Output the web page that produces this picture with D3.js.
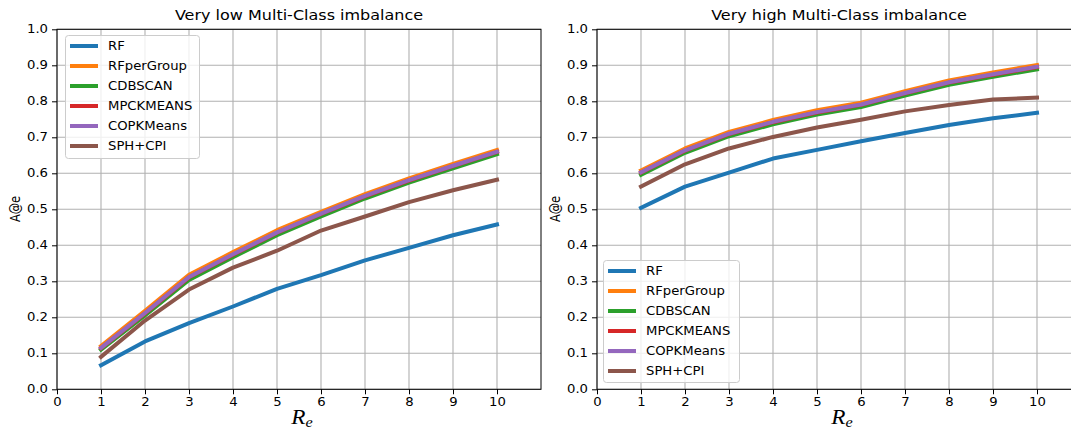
<!DOCTYPE html>
<html>
<head>
<meta charset="utf-8">
<script src="https://cdn.jsdelivr.net/npm/d3@7"></script>
<style>
  html, body { margin: 0; padding: 0; background: #fff; }
  svg { display: block; }
  text { font-family: "DejaVu Sans", sans-serif; fill: #000; }
</style>
</head>
<body>
<svg id="chart" width="1071" height="432"></svg>
<script>
// ---- data ----
const xValues = [1, 2, 3, 4, 5, 6, 7, 8, 9, 10];
const seriesNames = ["RF", "RFperGroup", "CDBSCAN", "MPCKMEANS", "COPKMeans", "SPH+CPI"];
const seriesColors = ["#1f77b4", "#ff7f0e", "#2ca02c", "#d62728", "#9467bd", "#8c564b"];
const xTicks = [0, 1, 2, 3, 4, 5, 6, 7, 8, 9, 10];
const yTicks = [0.0, 0.1, 0.2, 0.3, 0.4, 0.5, 0.6, 0.7, 0.8, 0.9, 1.0];
const panelTitles = ["Very low Multi-Class imbalance", "Very high Multi-Class imbalance"];

// Very low imbalance
const lowRF         = [0.067, 0.133, 0.184, 0.230, 0.279, 0.317, 0.358, 0.393, 0.428, 0.458];
const lowRFperGroup = [0.120, 0.218, 0.318, 0.381, 0.442, 0.493, 0.542, 0.586, 0.626, 0.665];
const lowCDBSCAN    = [0.110, 0.205, 0.304, 0.367, 0.428, 0.480, 0.530, 0.574, 0.614, 0.653];
const lowMPCKMEANS  = [0.114, 0.211, 0.311, 0.374, 0.435, 0.487, 0.536, 0.580, 0.620, 0.659];
const lowCOPKMeans  = [0.115, 0.212, 0.312, 0.375, 0.436, 0.488, 0.537, 0.581, 0.621, 0.660];
const lowSPHCPI     = [0.090, 0.191, 0.277, 0.338, 0.385, 0.441, 0.480, 0.520, 0.553, 0.582];

// Very high imbalance
const highRF         = [0.504, 0.563, 0.602, 0.641, 0.665, 0.689, 0.712, 0.734, 0.753, 0.768];
const highRFperGroup = [0.608, 0.669, 0.715, 0.748, 0.775, 0.796, 0.828, 0.858, 0.880, 0.901];
const highCDBSCAN    = [0.596, 0.657, 0.703, 0.736, 0.763, 0.784, 0.816, 0.846, 0.868, 0.889];
const highMPCKMEANS  = [0.602, 0.663, 0.709, 0.742, 0.769, 0.790, 0.822, 0.852, 0.874, 0.895];
const highCOPKMeans  = [0.603, 0.664, 0.710, 0.743, 0.770, 0.791, 0.823, 0.853, 0.875, 0.896];
const highSPHCPI     = [0.563, 0.625, 0.669, 0.701, 0.727, 0.749, 0.772, 0.790, 0.805, 0.810];

const panels = [
  { title: panelTitles[0], series: [lowRF, lowRFperGroup, lowCDBSCAN, lowMPCKMEANS, lowCOPKMeans, lowSPHCPI],
    left: 57, right: 541, legend: { x: 65, y: 35, w: 134, h: 123 } },
  { title: panelTitles[1], series: [highRF, highRFperGroup, highCDBSCAN, highMPCKMEANS, highCOPKMeans, highSPHCPI],
    left: 597, right: 1081, legend: { x: 603, y: 260, w: 136, h: 122 } }
];

const SX = 1.16; // horizontal text stretch
const tickFont = 11.4, titleFont = 13.8;
const plotTop = 29.3, plotBottom = 389.3;
const svg = d3.select("#chart");

panels.forEach(p => {
  const x = d3.scaleLinear().domain([0, 11]).range([p.left, p.right]);
  const y = d3.scaleLinear().domain([0, 1]).range([plotBottom, plotTop]);
  const g = svg.append("g");

  // grid
  g.append("g").selectAll("line").data(xTicks).join("line")
    .attr("x1", d => x(d)).attr("x2", d => x(d)).attr("y1", plotTop).attr("y2", plotBottom)
    .attr("stroke", "#b0b0b0").attr("stroke-width", 1.1);
  g.append("g").selectAll("line").data(yTicks).join("line")
    .attr("x1", p.left).attr("x2", p.right).attr("y1", d => y(d)).attr("y2", d => y(d))
    .attr("stroke", "#b0b0b0").attr("stroke-width", 1.1);

  // lines
  const line = d3.line().x((d, i) => x(xValues[i])).y(d => y(d));
  p.series.forEach((s, i) => {
    g.append("path").datum(s).attr("d", line)
      .attr("fill", "none").attr("stroke", seriesColors[i])
      .attr("stroke-width", 4).attr("stroke-linejoin", "round").attr("stroke-linecap", "square");
  });

  // axes
  const ax = g.append("g").attr("transform", `translate(0,${plotBottom})`)
    .call(d3.axisBottom(x).tickValues(xTicks).tickFormat(d3.format("d")).tickSize(5).tickPadding(4));
  const ay = g.append("g").attr("transform", `translate(${p.left},0)`)
    .call(d3.axisLeft(y).tickValues(yTicks).tickFormat(d3.format(".1f")).tickSize(5).tickPadding(4));
  [ax, ay].forEach(a => {
    a.select(".domain").remove();
    a.selectAll(".tick line").attr("stroke", "#000").attr("stroke-width", 1);
    a.selectAll(".tick text").attr("font-size", tickFont).attr("font-family", "DejaVu Sans").attr("fill", "#000");
  });
  ax.selectAll(".tick text").attr("transform", `scale(${SX},1)`);
  ay.selectAll(".tick text").attr("x", -9 / SX).attr("transform", `scale(${SX},1)`);

  // frame
  g.append("rect").attr("x", p.left).attr("y", plotTop)
    .attr("width", p.right - p.left).attr("height", plotBottom - plotTop)
    .attr("fill", "none").attr("stroke", "#000").attr("stroke-width", 1);

  // title
  const cx = (p.left + p.right) / 2;
  g.append("text").attr("transform", `translate(${cx},20) scale(${SX},1)`)
    .attr("text-anchor", "middle").attr("font-size", titleFont).text(p.title);

  // x label R_e
  const xl = g.append("text").attr("transform", `translate(${cx + 3},424) scale(${SX},1)`)
    .attr("text-anchor", "middle")
    .style("font-family", "'Liberation Serif', 'DejaVu Serif', serif")
    .style("font-style", "italic").style("font-size", "20px");
  xl.append("tspan").text("R");
  xl.append("tspan").style("font-size", "14px").attr("dy", 3).text("e");

  // y label
  g.append("text").attr("transform", `translate(${p.left - 37},209) scale(${SX},1) rotate(-90)`)
    .attr("text-anchor", "middle").attr("font-size", tickFont).text("A@e");

  // legend
  const L = p.legend;
  const lg = g.append("g");
  lg.append("rect").attr("x", L.x + 0.5).attr("y", L.y + 0.5).attr("width", L.w).attr("height", L.h)
    .attr("rx", 3).attr("fill", "#fff").attr("fill-opacity", 0.8)
    .attr("stroke", "#cccccc").attr("stroke-width", 1);
  seriesNames.forEach((name, i) => {
    const ry = L.y + 11 + i * 20;
    lg.append("line").attr("x1", L.x + 5).attr("x2", L.x + 33).attr("y1", ry).attr("y2", ry)
      .attr("stroke", seriesColors[i]).attr("stroke-width", 4);
    lg.append("text").attr("transform", `translate(${L.x + 43},${ry}) scale(${SX},1)`)
      .attr("dy", "0.36em").attr("font-size", tickFont).text(name);
  });
});
</script>
</body>
</html>
